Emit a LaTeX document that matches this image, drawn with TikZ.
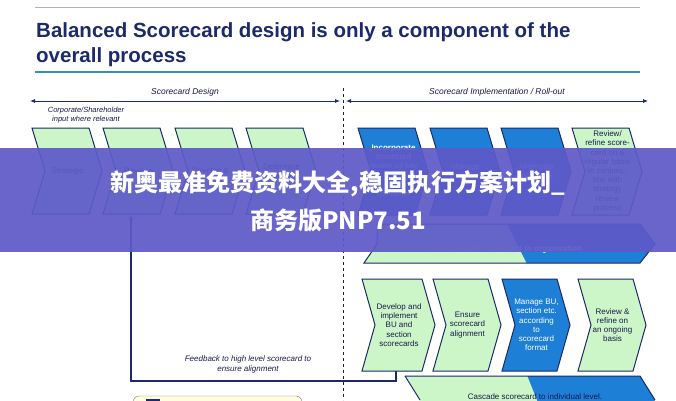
\documentclass[tikz,border=0pt]{standalone}
\usepackage{fontspec}
\setmainfont{Liberation Sans}
\newfontfamily\cjk{Noto Sans CJK SC}
\usetikzlibrary{arrows.meta}
\definecolor{navyE}{HTML}{1B2A6B}
\definecolor{lgreen}{HTML}{CCF5C8}
\definecolor{bblue}{HTML}{1E7FD6}
\definecolor{ttext}{HTML}{1A1A4A}
\definecolor{rule}{HTML}{2E8FC0}
\definecolor{banner}{HTML}{5E5AC8}
\newcommand\chev[8]{%
  \path[fill=#6,draw=navyE,line width=1pt] (#2,#3) -- ++(#4,0) -- ++(13,#5/2) -- ++(-13,#5/2) -- ++(-#4,0) -- ++(13,-#5/2) -- cycle;
  \node[ctext,text=#8] (#1) at (#2+#4/2+7,#3+#5/2) {#7};}
\tikzset{ctext/.style={align=center,font=\fontsize{8}{9.2}\selectfont,inner sep=0pt},
  hdr/.style={font=\itshape\fontsize{8.5}{10}\selectfont,text=ttext},
  harrow/.style={{Latex[length=5pt,width=4pt]}-{Latex[length=5pt,width=4pt]},navyE,line width=0.8pt}}
\begin{document}
\begin{tikzpicture}[x=1pt,y=-1pt]
\useasboundingbox (0,0) rectangle (676,400);
\fill[white] (0,0) rectangle (676,400);
\clip (0,0) rectangle (676,400);
% title
\draw[gray!60,line width=0.6pt] (35,7) -- (640,7);
\node[anchor=west,font=\bfseries\fontsize{20.5}{25}\selectfont,text=navyE,align=left,inner sep=0pt] (title) at (36,45) {Balanced Scorecard design is only a component of the\\overall process};
\draw[rule,line width=2.5pt] (35,72) -- (640,72);
% divider
\draw[dashed,ttext,line width=0.6pt] (343,88) -- (343,400);
% headers
\coordinate (la) at (30,101); \coordinate (lb) at (340,101);
\coordinate (ra) at (346,101); \coordinate (rb) at (648,101);
\draw[harrow] (la) -- (lb);
\draw[harrow] (ra) -- (rb);
\node[hdr] (hl) at (185,92) {Scorecard Design};
\node[hdr] (hr) at (497,92) {Scorecard Implementation / Roll-out};
\node[hdr,align=center,font=\itshape\fontsize{7.5}{8.5}\selectfont,inner sep=0pt] (corp) at (86,115) {Corporate/Shareholder\\input where relevant};
% left row
\chev{l1}{32}{128}{57}{86}{lgreen}{Strategic}{ttext}
\chev{l2}{103}{128}{57}{86}{lgreen}{Develop}{ttext}
\chev{l3}{175}{128}{57}{86}{lgreen}{Develop \&}{ttext}
\chev{l4}{246}{128}{57}{86}{lgreen}{Determine\\baselines}{ttext}
% right row 1
\chev{r1}{358}{128}{57}{87}{bblue}{\textbf{Incorporate}\\scorecard\\review as key\\\\\\meetings}{white}
\chev{r2}{430}{128}{57}{87}{bblue}{Manage\\business}{white}
\chev{r3}{501}{128}{57}{87}{bblue}{Align/plan\\initiatives}{white}
\chev{r4}{572}{128}{57}{87}{lgreen}{Review/\\refine score-\\card on a\\regular basis\\in conjunc-\\tion with\\strategy\\review\\process}{ttext}
% communicate bar
\begin{scope}
\path[clip] (377,224) -- (640,224) -- (655,244) -- (640,263) -- (364,263) -- (377,244) -- cycle;
\fill[lgreen] (360,220) rectangle (660,270);
\fill[bblue] (505,220) -- (660,220) -- (660,270) -- (530,270) -- cycle;
\end{scope}
\draw[navyE,line width=1pt] (377,224) -- (640,224) -- (655,244) -- (640,263) -- (364,263) -- (377,244) -- cycle;
\node[ctext,text=white] (comm) at (505,249) {\textbf{Communicate Scorecard to organisation}};
% row 3
\chev{s1}{362}{279}{60}{92}{lgreen}{Develop and\\implement\\BU and\\section\\scorecards}{ttext}
\chev{s2}{433}{279}{55}{92}{lgreen}{Ensure\\scorecard\\alignment}{ttext}
\chev{s3}{502}{279}{55}{92}{bblue}{Manage BU,\\section etc.\\according\\to\\scorecard\\format}{white}
\chev{s4}{578}{279}{55}{92}{lgreen}{Review \&\\refine on\\an ongoing\\basis}{ttext}
% feedback loop
\coordinate (fb1) at (396,381); \coordinate (fb2) at (131,381); \coordinate (fbs) at (396,371);
\draw[navyE,line width=1.2pt,-{Latex[length=5pt,width=4pt]}] (fbs) -- (fb1) -- (fb2) -- (131,215);
\node[hdr,align=center,font=\itshape\fontsize{8}{10}\selectfont] (fbt) at (248,364) {Feedback to high level scorecard to\\ensure alignment};
% cascade bar
\begin{scope}
\path[clip] (405,376) -- (640,376) -- (655,400) -- (640,420) -- (420,420) -- (420,400) -- cycle;
\fill[lgreen] (400,370) rectangle (660,420);
\fill[bblue] (525,370) -- (660,370) -- (660,420) -- (545,420) -- cycle;
\end{scope}
\draw[navyE,line width=1pt] (405,376) -- (640,376) -- (655,400);
\draw[navyE,line width=1pt] (405,376) -- (420,400);
\node[ctext,text=ttext,font=\fontsize{8}{9}\selectfont] (casc) at (535,397) {Cascade scorecard to individual level.};
% legend
\draw[gray,fill=yellow!12,rounded corners=6pt] (133,396) rectangle (302,430);
\fill[navyE] (146,399) rectangle (160,412);
% banner
\fill[banner,opacity=0.93] (0,148) rectangle (676,252);
\node[font=\cjk\bfseries\fontsize{24}{28}\selectfont,text=white,inner sep=0pt] (b1) at (338,184) {新奥最准免费资料大全,稳固执行方案计划\_};
\node[font=\cjk\bfseries\fontsize{24}{28}\selectfont,text=white,inner sep=0pt] (b2) at (338,220) {商务版PNP7.51};
\end{tikzpicture}
\end{document}
